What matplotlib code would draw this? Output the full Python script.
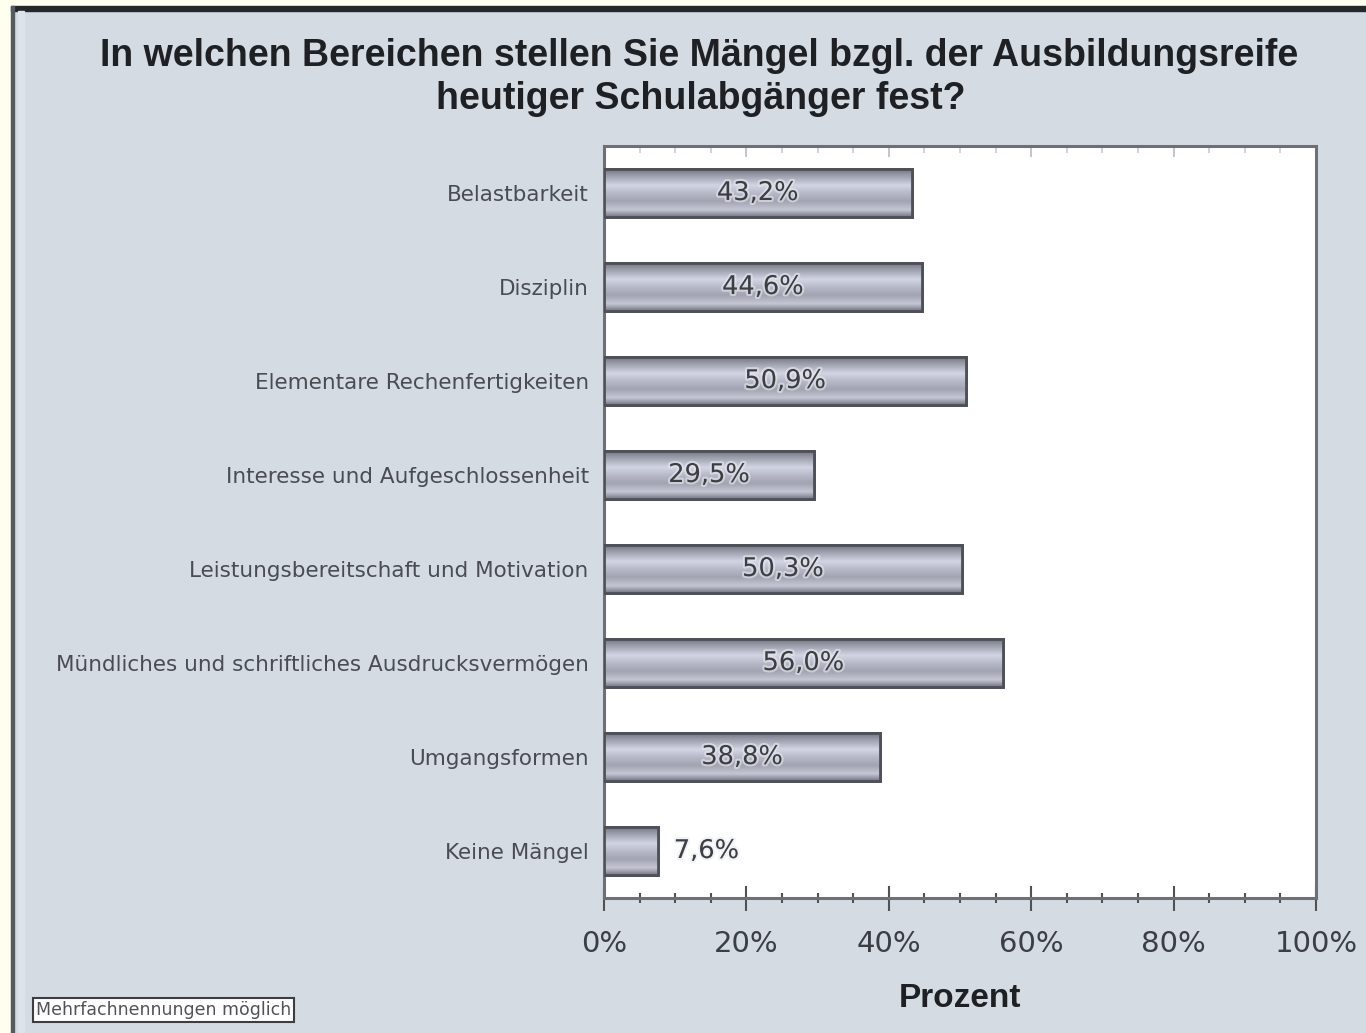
import matplotlib
matplotlib.use("Agg")
import matplotlib.pyplot as plt
import numpy as np
from matplotlib.colors import LinearSegmentedColormap
from matplotlib.patches import Rectangle
import matplotlib.patheffects as pe

# ---- data ----
categories = [
    "Belastbarkeit",
    "Disziplin",
    "Elementare Rechenfertigkeiten",
    "Interesse und Aufgeschlossenheit",
    "Leistungsbereitschaft und Motivation",
    "Mündliches und schriftliches Ausdrucksvermögen",
    "Umgangsformen",
    "Keine Mängel",
]
values = [43.2, 44.6, 50.9, 29.5, 50.3, 56.0, 38.8, 7.6]
value_labels = ["43,2%", "44,6%", "50,9%", "29,5%", "50,3%", "56,0%", "38,8%", "7,6%"]
xticks = [0, 20, 40, 60, 80, 100]
xtick_labels = ["0%", "20%", "40%", "60%", "80%", "100%"]
title_line1 = "In welchen Bereichen stellen Sie Mängel bzgl. der Ausbildungsreife"
title_line2 = "heutiger Schulabgänger fest?"
xlabel = "Prozent"
footnote = "Mehrfachnennungen möglich"

BG = "#d4dbe2"
W, H = 1366, 1033
fig = plt.figure(figsize=(W / 100, H / 100), dpi=100, facecolor=BG)

# outer frame (cream edge + dark border)
fig.patches.append(Rectangle((0, 0), 11 / W, 1, transform=fig.transFigure, color="#fffff0", zorder=-5))
fig.patches.append(Rectangle((0, 1 - 6 / H), 1, 6 / H, transform=fig.transFigure, color="#fffff0", zorder=-5))
fig.patches.append(Rectangle((11 / W, 1 - 11 / H), 1, 5 / H, transform=fig.transFigure, color="#24282c", zorder=-4))
fig.patches.append(Rectangle((11 / W, 0), 3 / W, 1 - 6 / H, transform=fig.transFigure, color="#555a60", zorder=-4))
fig.patches.append(Rectangle((18 / W, 0), 6 / W, 1 - 11 / H, transform=fig.transFigure, color="#dde3e9", zorder=-4))

ax = fig.add_axes([604 / W, 135 / H, 712 / W, 752 / H])
ax.set_facecolor("white")

y = np.arange(len(categories))
bars = ax.barh(y, values, height=0.52, color="#a8aab8", edgecolor="#4e5058", linewidth=2.0, zorder=3)

cmap = LinearSegmentedColormap.from_list(
    "metal",
    [(0.0, "#6c6e7a"), (0.12, "#9496a4"), (0.35, "#d2d5e4"), (0.5, "#b9bbca"),
     (0.68, "#a2a4b2"), (0.86, "#c4c6d4"), (1.0, "#767884")],
)
grad = np.linspace(0, 1, 64).reshape(-1, 1)
for b in bars:
    x0, y0, w, h = b.get_x(), b.get_y(), b.get_width(), b.get_height()
    im = ax.imshow(grad, cmap=cmap, aspect="auto", extent=(x0, x0 + w, y0 + h, y0),
                   origin="upper", zorder=3.5, interpolation="bilinear")
    im.set_clip_path(b)
    ax.add_patch(Rectangle((x0, y0), w, h, fill=False, edgecolor="#4e5058", linewidth=2.0, zorder=4))

halo = [pe.withStroke(linewidth=3, foreground="#e8eaf0", alpha=0.6)]
for yi, v, lab in zip(y, values, value_labels):
    if v >= 15:
        ax.text(v / 2, yi, lab, ha="center", va="center", fontsize=18.5, color="#3c3e44",
                family="DejaVu Sans", zorder=5, path_effects=halo)
    else:
        ax.text(v + 2.2, yi, lab, ha="left", va="center", fontsize=18.5, color="#3c3e44",
                family="DejaVu Sans", zorder=5, path_effects=halo)

ax.set_xlim(0, 100)
ax.set_ylim(len(categories) - 0.5, -0.5)
ax.set_yticks(y)
ax.set_yticklabels(categories, fontsize=15.5, color="#4a4c52", family="DejaVu Sans")
ax.tick_params(axis="y", length=0, pad=11)

ax.set_xticks(xticks)
ax.set_xticklabels(xtick_labels, fontsize=21, color="#3c3e44", family="DejaVu Sans")
ax.set_xticks(np.arange(0, 101, 5), minor=True)
ax.tick_params(axis="x", which="major", direction="inout", length=18, width=1.5, color="#505258", pad=14)
ax.tick_params(axis="x", which="minor", direction="inout", length=7, width=1.5, color="#505258")

# faint inward ticks on the top spine
top = ax.secondary_xaxis("top")
top.set_xticks(xticks)
top.set_xticks(np.arange(0, 101, 5), minor=True)
top.tick_params(which="major", direction="in", length=8, width=1.2, color="#b8bcc4", labeltop=False)
top.tick_params(which="minor", direction="in", length=5, width=1.2, color="#c8ccd2")
top.spines["top"].set_visible(False)

for s in ax.spines.values():
    s.set_color("#6e7076")
    s.set_linewidth(2.2)

ax.set_xlabel(xlabel, fontsize=24, fontweight="bold", family="Liberation Sans", color="#1e2024", labelpad=18)

fig.text(699 / W, 1 - 56 / H, title_line1, ha="center", va="center", fontsize=27, fontweight="bold",
         family="Liberation Sans", color="#1e2024")
fig.text(701 / W, 1 - 99 / H, title_line2, ha="center", va="center", fontsize=27, fontweight="bold",
         family="Liberation Sans", color="#1e2024")

fig.text(163.5 / W, 1 - 1010 / H, footnote, ha="center", va="center", fontsize=12.5, color="#505258",
         family="DejaVu Sans",
         bbox=dict(boxstyle="square,pad=0.18", facecolor="white", edgecolor="#3c3e44", linewidth=1.5))

fig.savefig("out.png", dpi=100, facecolor=BG)
